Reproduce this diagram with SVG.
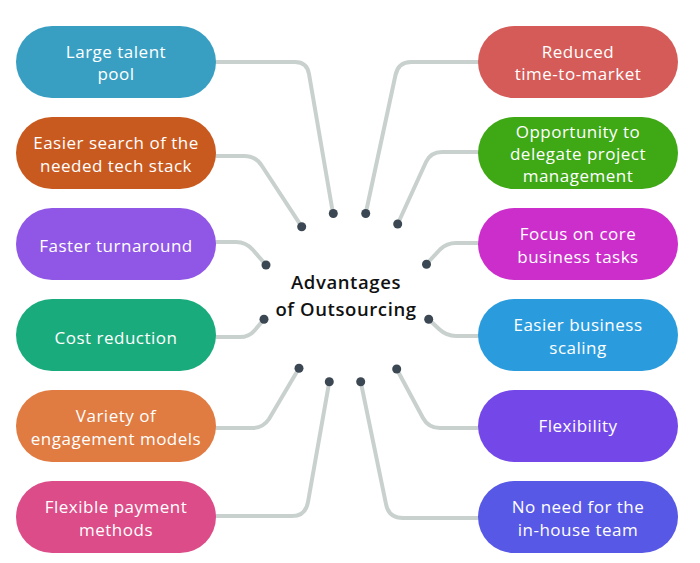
<svg xmlns="http://www.w3.org/2000/svg" width="700" height="563" viewBox="0 0 700 563">
<style>
.node rect{stroke:none}
.node text{fill:#ffffff;font-family:"Open Sans","Liberation Sans",sans-serif;font-size:17px;letter-spacing:0.5px;text-anchor:middle}
.conn path{fill:none;stroke:#c9d1cf;stroke-width:4;stroke-linecap:round;stroke-linejoin:round}
.conn circle{fill:#3b4753}
.title{fill:#111111;font-family:"Open Sans","Liberation Sans",sans-serif;font-size:18.5px;font-weight:600;letter-spacing:0.6px;text-anchor:middle}
</style>
<rect width="700" height="563" fill="#ffffff"/>
<g id="connectors" class="conn">
<path d="M216,62 H295 Q307,62 309,74 L333,213.5"/>
<path d="M216,156 H244 Q256,156 262,166 L301.7,226.7"/>
<path d="M216,242 H236 Q246,242 253,250 L266,265"/>
<path d="M216,337 H240 Q249,337 255,330 L264,319.3"/>
<path d="M216,428 H252 Q263,428 269,419 L299,368.3"/>
<path d="M216,516 H292 Q305.7,516 308,502 L329.3,381.7"/>
<path d="M478,62 H411 Q398.3,62 395.5,75 L365.7,213.5"/>
<path d="M478,152 H442 Q430.7,152 426,162 L397.7,224"/>
<path d="M478,243 H456 Q446.7,243 440,249.5 L426.5,264"/>
<path d="M478,336 H456 Q446.5,336 439,329 L428.7,319.3"/>
<path d="M478,428 H440 Q428.4,428 423,418 L396.7,369"/>
<path d="M478,518 H403 Q388.6,518 386,504 L360.7,381.7"/>
<circle cx="333.3" cy="213.5" r="4.5"/>
<circle cx="365.7" cy="213.5" r="4.5"/>
<circle cx="301.7" cy="226.7" r="4.5"/>
<circle cx="397.7" cy="224" r="4.5"/>
<circle cx="266" cy="265" r="4.5"/>
<circle cx="426.5" cy="264.3" r="4.5"/>
<circle cx="264" cy="319.3" r="4.5"/>
<circle cx="428.7" cy="319.3" r="4.5"/>
<circle cx="299" cy="368.3" r="4.5"/>
<circle cx="396.7" cy="369" r="4.5"/>
<circle cx="329.3" cy="381.7" r="4.5"/>
<circle cx="360.7" cy="381.7" r="4.5"/>
</g>
<g id="center">
<text class="title" x="346" y="289">Advantages</text>
<text class="title" x="346" y="316">of Outsourcing</text>
</g>
<g id="n-large-talent" class="node">
<rect x="16" y="26" width="200" height="72" rx="36" fill="#389fc3"/>
<text x="116" y="58">Large talent</text><text x="116" y="80">pool</text>
</g>
<g id="n-easier-search" class="node">
<rect x="16" y="117" width="200" height="72" rx="36" fill="#c95a1f"/>
<text x="116" y="149">Easier search of the</text><text x="116" y="171.5">needed tech stack</text>
</g>
<g id="n-faster" class="node">
<rect x="16" y="208" width="200" height="72" rx="36" fill="#9057e6"/>
<text x="116" y="252">Faster turnaround</text>
</g>
<g id="n-cost" class="node">
<rect x="16" y="299" width="200" height="72" rx="36" fill="#1aab7c"/>
<text x="116" y="343.5">Cost reduction</text>
</g>
<g id="n-variety" class="node">
<rect x="16" y="390" width="200" height="72" rx="36" fill="#e07b41"/>
<text x="116" y="422">Variety of</text><text x="116" y="444.5">engagement models</text>
</g>
<g id="n-flex-payment" class="node">
<rect x="16" y="481" width="200" height="72" rx="36" fill="#dc4c88"/>
<text x="116" y="513">Flexible payment</text><text x="116" y="535.5">methods</text>
</g>
<g id="n-reduced" class="node">
<rect x="478" y="26" width="200" height="72" rx="36" fill="#d45b57"/>
<text x="578" y="58">Reduced</text><text x="578" y="80">time-to-market</text>
</g>
<g id="n-opportunity" class="node">
<rect x="478" y="117" width="200" height="72" rx="36" fill="#3ea815"/>
<text x="578" y="138">Opportunity to</text><text x="578" y="160">delegate project</text><text x="578" y="182">management</text>
</g>
<g id="n-focus" class="node">
<rect x="478" y="208" width="200" height="72" rx="36" fill="#cc2ecb"/>
<text x="578" y="240">Focus on core</text><text x="578" y="262.5">business tasks</text>
</g>
<g id="n-scaling" class="node">
<rect x="478" y="299" width="200" height="72" rx="36" fill="#2a9cde"/>
<text x="578" y="331">Easier business</text><text x="578" y="353.5">scaling</text>
</g>
<g id="n-flexibility" class="node">
<rect x="478" y="390" width="200" height="72" rx="36" fill="#7448e8"/>
<text x="578" y="432">Flexibility</text>
</g>
<g id="n-no-need" class="node">
<rect x="478" y="481" width="200" height="72" rx="36" fill="#5758e6"/>
<text x="578" y="513">No need for the</text><text x="578" y="535.5">in-house team</text>
</g>
</svg>
